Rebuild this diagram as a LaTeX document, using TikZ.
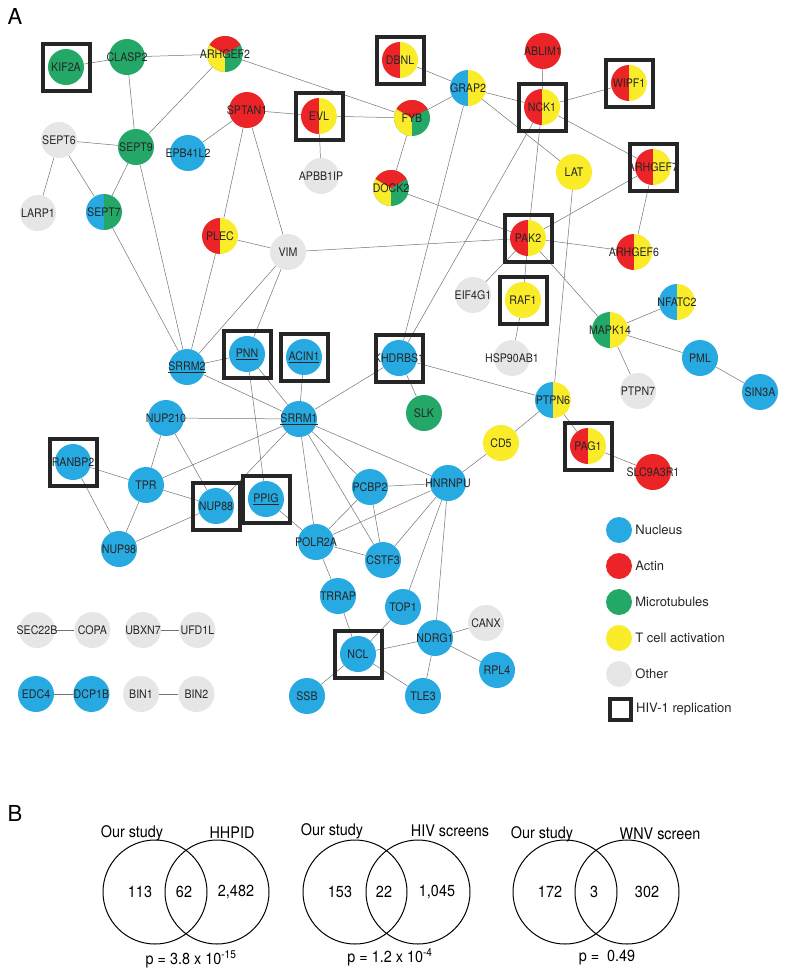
\documentclass[tikz,border=0pt]{standalone}
\usepackage{fontspec}
\setmainfont{TeX Gyre Heros}
\newfontfamily\narrowfont[FakeStretch=0.9]{TeX Gyre Heros}
\usetikzlibrary{positioning,calc}
\definecolor{cNuc}{RGB}{39,170,225}
\definecolor{cAct}{RGB}{236,36,39}
\definecolor{cMic}{RGB}{35,168,103}
\definecolor{cTca}{RGB}{250,236,40}
\definecolor{cOth}{RGB}{230,230,231}
\pgfdeclarelayer{bg}
\pgfsetlayers{bg,main}

\begin{document}
\begin{tikzpicture}[
  x=1pt, y=-1pt,
  prot/.style={circle, minimum size=36pt, inner sep=0pt, text=black!85,
               font=\narrowfont\fontsize{11.8}{13}\selectfont,
               execute at begin node={\hbox to 0pt\bgroup\hss},
               execute at end node={\hss\egroup}},
  nuc/.style={prot, fill=cNuc},
  act/.style={prot, fill=cAct},
  mic/.style={prot, fill=cMic},
  tca/.style={prot, fill=cTca},
  oth/.style={prot, fill=cOth},
  two/.style 2 args={prot, path picture={
    \fill[#1] (path picture bounding box.south west) rectangle (path picture bounding box.north);
    \fill[#2] (path picture bounding box.south) rectangle (path picture bounding box.north east);}},
  three/.style={prot, path picture={
    \fill[cMic] (path picture bounding box.south west) rectangle (path picture bounding box.north east);
    \fill[cTca] (path picture bounding box.south west) rectangle (path picture bounding box.north);
    \fill[cAct] (path picture bounding box.center)
      -- ($(path picture bounding box.center)!2!(path picture bounding box.30)$)
      -- ($(path picture bounding box.center)!2!(path picture bounding box.90)$)
      -- ($(path picture bounding box.center)!2!(path picture bounding box.150)$) -- cycle;}},
  hivbox/.style={draw=black!85, line width=4pt, minimum size=47pt, inner sep=0pt},
  hiv/.style={label={[hivbox]center:{}}},
  lnk/.style={draw=black!55, line width=0.5pt},
  key/.style={circle, minimum size=26pt, inner sep=0pt},
  keytxt/.style={font=\fontsize{13}{15}\selectfont, inner sep=1pt, text=black!85},
  venn/.style={draw, line width=1pt, circle, minimum size=104pt, inner sep=0pt},
  vtxt/.style={font=\narrowfont\fontsize{16}{18}\selectfont, inner sep=1pt},
  panel/.style={font=\fontsize{22}{24}\selectfont, inner sep=0pt}
]
\useasboundingbox (0,0) rectangle (786,970);
% ---------------- panel A: top left ----------------
\node[panel] (pA) at (15,16) {A};
\node[mic, hiv] (KIF2A) at (66,67) {KIF2A};
\node[mic] (CLASP2) at (127,57) {CLASP2};
\node[three] (ARHGEF2) at (225,54) {ARHGEF2};
\node[oth] (SEPT6) at (59,140) {SEPT6};
\node[mic] (SEPT9) at (136,147) {SEPT9};
\node[oth] (LARP1) at (38,213) {LARP1};
\node[two={cNuc}{cMic}] (SEPT7) at (104,212) {SEPT7};
\node[nuc] (EPB41L2) at (188,153) {EPB41L2};
\node[act] (SPTAN1) at (247,110) {SPTAN1};
\node[two={cAct}{cTca}, hiv] (EVL) at (319,116) {EVL};
\node[oth] (APBB1IP) at (321,176) {APBB1IP};
\node[two={cAct}{cTca}] (PLEC) at (220,236) {PLEC};
\node[oth] (VIM) at (288,252) {VIM};
% ---------------- top right ----------------
\node[two={cAct}{cTca}, hiv] (DBNL) at (400,60) {DBNL};
\node[two={cNuc}{cTca}] (GRAP2) at (468,88) {GRAP2};
\node[three] (FYB) at (412,118) {FYB};
\node[three] (DOCK2) at (391,188) {DOCK2};
\node[act] (ABLIM1) at (543,51) {ABLIM1};
\node[two={cAct}{cTca}, hiv] (NCK1) at (542,107) {NCK1};
\node[two={cAct}{cTca}, hiv] (WIPF1) at (629,83) {WIPF1};
\node[tca] (LAT) at (574,172) {LAT};
\node[two={cAct}{cTca}, hiv] (ARHGEF7) at (653,167) {ARHGEF7};
\node[two={cAct}{cTca}, hiv] (PAK2) at (528,238) {PAK2};
\node[two={cAct}{cTca}] (ARHGEF6) at (634,252) {ARHGEF6};
\node[oth] (EIF4G1) at (473,295) {EIF4G1};
\node[tca, hiv] (RAF1) at (523,300) {RAF1};
\node[oth] (HSP90AB1) at (512,358) {HSP90AB1};
\node[two={cMic}{cTca}] (MAPK14) at (610,330) {MAPK14};
\node[two={cNuc}{cTca}] (NFATC2) at (677,302) {NFATC2};
\node[nuc] (PML) at (700,358) {PML};
\node[oth] (PTPN7) at (638,391) {PTPN7};
\node[nuc] (SIN3A) at (760,392) {SIN3A};
% ---------------- middle ----------------
\node[nuc] (SRRM2) at (187,367) {\underline{SRRM2}};
\node[nuc, hiv] (PNN) at (247,354) {\underline{PNN}};
\node[nuc, hiv] (ACIN1) at (304,357) {\underline{ACIN1}};
\node[nuc, hiv] (KHDRBS1) at (399,358) {KHDRBS1};
\node[mic] (SLK) at (424,413) {SLK};
\node[two={cNuc}{cTca}] (PTPN6) at (553,400) {PTPN6};
\node[tca] (CD5) at (501,443) {CD5};
\node[two={cAct}{cTca}, hiv] (PAG1) at (588,446) {PAG1};
\node[act] (SLC9A3R1) at (653,472) {SLC9A3R1};
\node[nuc] (NUP210) at (166,418) {NUP210};
\node[nuc] (SRRM1) at (299,419) {\underline{SRRM1}};
% ---------------- bottom ----------------
\node[nuc, hiv] (RANBP2) at (73,462) {RANBP2};
\node[nuc] (TPR) at (146,485) {TPR};
\node[nuc, hiv] (NUP88) at (216,506) {NUP88};
\node[nuc, hiv] (PPIG) at (266,499) {\underline{PPIG}};
\node[nuc] (NUP98) at (119,549) {NUP98};
\node[nuc] (PCBP2) at (370,487) {PCBP2};
\node[nuc] (HNRNPU) at (448,483) {HNRNPU};
\node[nuc] (POLR2A) at (316,542) {POLR2A};
\node[nuc] (CSTF3) at (383,560) {CSTF3};
\node[nuc] (TRRAP) at (338,596) {TRRAP};
\node[nuc] (TOP1) at (403,607) {TOP1};
\node[oth] (CANX) at (486,623) {CANX};
\node[nuc] (NDRG1) at (435,638) {NDRG1};
\node[nuc] (RPL4) at (497,670) {RPL4};
\node[nuc, hiv] (NCL) at (358,654) {NCL};
\node[nuc] (SSB) at (307,696) {SSB};
\node[nuc] (TLE3) at (423,696) {TLE3};
% ---------------- isolated pairs ----------------
\node[oth] (SEC22B) at (37,630) {SEC22B};
\node[oth, right=19pt of SEC22B] (COPA) {COPA};
\node[oth] (UBXN7) at (143,630) {UBXN7};
\node[oth, right=18pt of UBXN7] (UFD1L) {UFD1L};
\node[nuc] (EDC4) at (36,694) {EDC4};
\node[nuc, right=19pt of EDC4] (DCP1B) {DCP1B};
\node[oth] (BIN1) at (141,694) {BIN1};
\node[oth, right=19pt of BIN1] (BIN2) {BIN2};
% ---------------- legend ----------------
\node[key, fill=cNuc] (kNuc) at (619,530) {};
\node[key, fill=cAct, below=9.6pt of kNuc] (kAct) {};
\node[key, fill=cMic, below=9.6pt of kAct] (kMic) {};
\node[key, fill=cTca, below=9.6pt of kMic] (kTca) {};
\node[key, fill=cOth, below=9.6pt of kTca] (kOth) {};
\node[draw=black!85, line width=4pt, minimum size=21pt, inner sep=0pt] (kHiv) at (620,709) {};
\node[keytxt, right=2pt of kNuc] (tNuc) {Nucleus};
\node[keytxt, right=2pt of kAct] (tAct) {Actin};
\node[keytxt, right=2pt of kMic] (tMic) {Microtubules};
\node[keytxt, right=2pt of kTca] (tTca) {T cell activation};
\node[keytxt, right=2pt of kOth] (tOth) {Other};
\node[keytxt, right=2.5pt of kHiv] (tHiv) {HIV-1 replication};
% ---------------- interactions ----------------
\begin{pgfonlayer}{bg}
\draw[lnk] (KIF2A) -- (CLASP2) (CLASP2) -- (ARHGEF2) (CLASP2) -- (SEPT9);
\draw[lnk] (ARHGEF2) -- (SEPT9) (ARHGEF2) -- (FYB);
\draw[lnk] (SEPT6) -- (SEPT9) (SEPT6) -- (LARP1) (SEPT6) -- (SEPT7);
\draw[lnk] (SEPT9) -- (SEPT7) (SEPT9) -- (SRRM2) (SEPT7) -- (SRRM2);
\draw[lnk] (SPTAN1) -- (EPB41L2) (SPTAN1) -- (EVL) (SPTAN1) -- (PLEC) (SPTAN1) -- (VIM);
\draw[lnk] (EVL) -- (FYB) (EVL) -- (APBB1IP);
\draw[lnk] (PLEC) -- (VIM) (PLEC) -- (SRRM2);
\draw[lnk] (VIM) -- (SRRM2) (VIM) -- (PNN) (VIM) -- (PAK2);
\draw[lnk] (DBNL) -- (GRAP2);
\draw[lnk] (GRAP2) -- (FYB) (GRAP2) -- (NCK1) (GRAP2) -- (LAT) (GRAP2) -- (KHDRBS1);
\draw[lnk] (FYB) -- (DOCK2) (DOCK2) -- (PAK2);
\draw[lnk] (NCK1) -- (ABLIM1) (NCK1) -- (WIPF1) (NCK1) -- (ARHGEF7) (NCK1) -- (PAK2) (NCK1) -- (KHDRBS1);
\draw[lnk] (ARHGEF7) -- (PAK2) (ARHGEF7) -- (ARHGEF6);
\draw[lnk] (LAT) -- (PTPN6);
\draw[lnk] (PAK2) -- (ARHGEF6) (PAK2) -- (EIF4G1) (PAK2) -- (RAF1) (PAK2) -- (MAPK14);
\draw[lnk] (RAF1) -- (HSP90AB1);
\draw[lnk] (MAPK14) -- (NFATC2) (MAPK14) -- (PML) (MAPK14) -- (PTPN7) (PML) -- (SIN3A);
\draw[lnk] (KHDRBS1) -- (SLK) (KHDRBS1) -- (PTPN6) (KHDRBS1) -- (SRRM1);
\draw[lnk] (PTPN6) -- (CD5) (PTPN6) -- (PAG1) (PAG1) -- (SLC9A3R1);
\draw[lnk] (CD5) -- (HNRNPU);
\draw[lnk] (SRRM2) -- (PNN) (SRRM2) -- (SRRM1);
\draw[lnk] (PNN) -- (SRRM1) (PNN) -- (PPIG) (ACIN1) -- (SRRM1);
\draw[lnk] (SRRM1) -- (NUP210) (SRRM1) -- (TPR) (SRRM1) -- (NUP88) (SRRM1) -- (POLR2A);
\draw[lnk] (SRRM1) -- (CSTF3) (SRRM1) -- (PCBP2) (SRRM1) -- (HNRNPU);
\draw[lnk] (NUP210) -- (TPR) (NUP210) -- (NUP88);
\draw[lnk] (TPR) -- (RANBP2) (TPR) -- (NUP88) (TPR) -- (NUP98);
\draw[lnk] (RANBP2) -- (NUP98) (NUP88) -- (NUP98);
\draw[lnk] (PPIG) -- (POLR2A);
\draw[lnk] (PCBP2) -- (HNRNPU) (PCBP2) -- (POLR2A) (PCBP2) -- (CSTF3);
\draw[lnk] (HNRNPU) -- (POLR2A) (HNRNPU) -- (CSTF3) (HNRNPU) -- (TOP1) (HNRNPU) -- (NDRG1);
\draw[lnk] (POLR2A) -- (CSTF3) (POLR2A) -- (TRRAP);
\draw[lnk] (TRRAP) -- (NCL) (TOP1) -- (NCL);
\draw[lnk] (NCL) -- (NDRG1) (NCL) -- (SSB) (NCL) -- (TLE3);
\draw[lnk] (NDRG1) -- (CANX) (NDRG1) -- (RPL4) (NDRG1) -- (TLE3);
\draw[lnk] (SEC22B) -- (COPA) (UBXN7) -- (UFD1L) (EDC4) -- (DCP1B) (BIN1) -- (BIN2);
\end{pgfonlayer}
% ---------------- panel B: overlaps ----------------
\node[panel] (pB) at (15,813) {B};
\node[venn] (v1a) at (155,892) {};
\node[venn] (v1b) at (217,892) {};
\node[venn] (v2a) at (355,892) {};
\node[venn] (v2b) at (418,892) {};
\node[venn] (v3a) at (565,892) {};
\node[venn] (v3b) at (627,892) {};
\node[vtxt] (h1a) at (132,833) {Our study};
\node[vtxt] (h1b) at (232,833) {HHPID};
\node[vtxt] (h2a) at (332,831) {Our study};
\node[vtxt] (h2b) at (450,831) {HIV screens};
\node[vtxt] (h3a) at (542,834) {Our study};
\node[vtxt] (h3b) at (660,834) {WNV screen};
\node[vtxt] (n1a) at (140,892) {113};
\node[vtxt] (n1c) at (184,892) {62};
\node[vtxt] (n1b) at (236,892) {2,482};
\node[vtxt] (n2a) at (340,892) {153};
\node[vtxt] (n2c) at (384,892) {22};
\node[vtxt] (n2b) at (437,892) {1,045};
\node[vtxt] (n3a) at (550,892) {172};
\node[vtxt] (n3c) at (594,892) {3};
\node[vtxt] (n3b) at (647,892) {302};
\node[vtxt] (p1) at (191,959) {p = 3.8 x 10\textsuperscript{-15}};
\node[vtxt] (p2) at (390,957) {p = 1.2 x 10\textsuperscript{-4}};
\node[vtxt] (p3) at (607,958) {p =\ \ 0.49};
\end{tikzpicture}
\end{document}
